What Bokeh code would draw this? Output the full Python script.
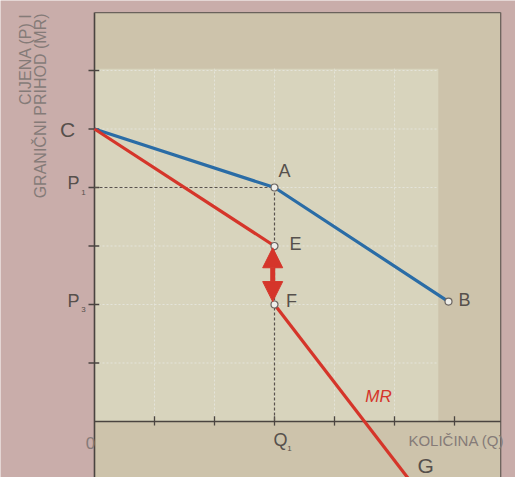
import math
from bokeh.plotting import figure
from bokeh.models import ColumnDataSource, Arrow, NormalHead
from bokeh.core.properties import value
from bokeh.embed import file_html
from bokeh.resources import INLINE

# ---- data ----
demand_q = [0, 3, 5.9]
demand_p = [5, 4, 2.05]
mr_upper_q = [0, 3]
mr_upper_p = [5, 3]
mr_lower_q = [3, 5.4]
mr_lower_p = [2, -1.2]
point_q = [3, 3, 3, 5.9]
point_p = [4, 3, 2, 2.05]
point_labels = ["A", "E", "F", "B"]
x_ticks = [1, 2, 3, 4, 5, 6]
y_ticks = [1, 2, 3, 4, 5, 6]
q1 = 3
p1 = 4
p3 = 2
c_price = 5
y_title_lines = ["CIJENA (P) I", "GRANIČNI PRIHOD (MR)"]
x_title = "KOLIČINA (Q)"

FONT = value("Liberation Sans")
LABEL_COL = "#56504c"
GRAY_TXT = "#857b78"
BLUE = "#2a6ca6"
RED = "#d5352a"

p = figure(width=515, height=477, x_range=(-1.5667, 7.0167), y_range=(-0.957, 7.1966),
           x_axis_type=None, y_axis_type=None, toolbar_location=None,
           output_backend="svg", min_border=0, outline_line_color=None,
           background_fill_color="#c9adaa", border_fill_color="#c9adaa")
p.grid.visible = False

# frame (paper) and lighter plotting area
p.quad(left=[0], right=[6.77], bottom=[-1.2], top=[6.99], fill_color="#cdc3ab", line_color=None)
p.quad(left=[0], right=[5.73], bottom=[0], top=[6.03], fill_color="#d8d4bd", line_color=None)

# faint grid
gx = [t for t in x_ticks if t < 5.73]
p.segment(x0=gx, y0=[0] * len(gx), x1=gx, y1=[6.03] * len(gx),
          line_color="#e4e4da", line_width=1, line_dash="2 2")
p.segment(x0=[0] * len(y_ticks), y0=y_ticks, x1=[5.73] * len(y_ticks), y1=y_ticks,
          line_color="#e4e4da", line_width=1, line_dash="2 2")

# frame lines / axes
p.line([0, 0], [-1.2, 6.99], line_color="#4a4440", line_width=1.6)
p.line([0, 6.77], [6.99, 6.99], line_color="#6a625c", line_width=1.3)
p.line([6.77, 6.77], [6.99, -1.2], line_color="#6a625c", line_width=1.3)
p.line([0, 6.77], [0, 0], line_color="#4a4440", line_width=1.6)

# ticks
p.segment(x0=x_ticks, y0=[-0.07] * len(x_ticks), x1=x_ticks, y1=[0.09] * len(x_ticks),
          line_color="#4a4440", line_width=1.3)
p.segment(x0=[-0.1] * len(y_ticks), y0=y_ticks, x1=[0.08] * len(y_ticks), y1=y_ticks,
          line_color="#4a4440", line_width=1.3)

# dashed guides
p.line([0, q1], [p1, p1], line_color="#5a524d", line_width=1.2, line_dash="3 2")
p.line([q1, q1], [p1, 0], line_color="#5a524d", line_width=1.2, line_dash="3 2")

# curves
p.line(demand_q, demand_p, line_color=BLUE, line_width=3.2)
p.line(mr_upper_q, mr_upper_p, line_color=RED, line_width=3.2)
p.line(mr_lower_q, mr_lower_p, line_color=RED, line_width=3.2)

# double arrow between E and F
p.add_layout(Arrow(x_start=point_q[2] - 0.03, y_start=point_p[2] + 0.05,
                   x_end=point_q[1] - 0.03, y_end=point_p[1] - 0.03,
                   line_color=RED, line_width=5,
                   start=NormalHead(size=20, fill_color=RED, line_color=RED),
                   end=NormalHead(size=20, fill_color=RED, line_color=RED)))

# points
src = ColumnDataSource(dict(q=point_q, p=point_p, lab=point_labels))
p.scatter("q", "p", source=src, size=7, fill_color="#eeeeea", line_color="#6b6561", line_width=1.2)
p.text(x=point_q, y=point_p, text=point_labels,
       x_offset=[10, 21, 17, 16], y_offset=[-17, -2, -4, -2],
       text_font=FONT, text_font_size="18px", text_color=LABEL_COL,
       text_align="center", text_baseline="middle")

# axis labels
p.text(x=[0], y=[c_price], text=["C"], x_offset=[-27], y_offset=[0],
       text_font=FONT, text_font_size="21px", text_color=LABEL_COL,
       text_align="center", text_baseline="middle")
p.text(x=[0, 0], y=[p1, p3], text=["P", "P"], x_offset=[-21, -21], y_offset=[-5, -4],
       text_font=FONT, text_font_size="18px", text_color=LABEL_COL,
       text_align="center", text_baseline="middle")
p.text(x=[0, 0], y=[p1, p3], text=["1", "3"], x_offset=[-11, -11], y_offset=[5, 5],
       text_font=FONT, text_font_size="8px", text_color=LABEL_COL,
       text_align="center", text_baseline="middle")
p.text(x=[q1], y=[0], text=["Q"], x_offset=[6], y_offset=[18],
       text_font=FONT, text_font_size="18px", text_color=LABEL_COL,
       text_align="center", text_baseline="middle")
p.text(x=[q1], y=[0], text=["1"], x_offset=[15], y_offset=[27],
       text_font=FONT, text_font_size="8px", text_color=LABEL_COL,
       text_align="center", text_baseline="middle")
p.text(x=[0], y=[0], text=["0"], x_offset=[-4], y_offset=[21],
       text_font=FONT, text_font_size="17px", text_color=GRAY_TXT,
       text_align="center", text_baseline="middle")
p.text(x=[5.52], y=[-0.752], text=["G"],
       text_font=FONT, text_font_size="21px", text_color=LABEL_COL,
       text_align="center", text_baseline="middle")
p.text(x=[4.733], y=[0.427], text=["MR"], text_font=FONT, text_font_size="17px",
       text_font_style="italic", text_color=RED, text_align="center", text_baseline="middle")
p.text(x=[6.03], y=[-0.325], text=[x_title], text_font=FONT, text_font_size="15px",
       text_color=GRAY_TXT, text_align="center", text_baseline="middle")

# rotated y title
p.text(x=[-1.142, -0.905], y=[6.975, 6.975], text=y_title_lines, angle=math.pi / 2,
       text_font=FONT, text_font_size="16px", text_color=GRAY_TXT,
       text_align="right", text_baseline="middle")

open("out.html", "w").write(file_html(p, INLINE))
